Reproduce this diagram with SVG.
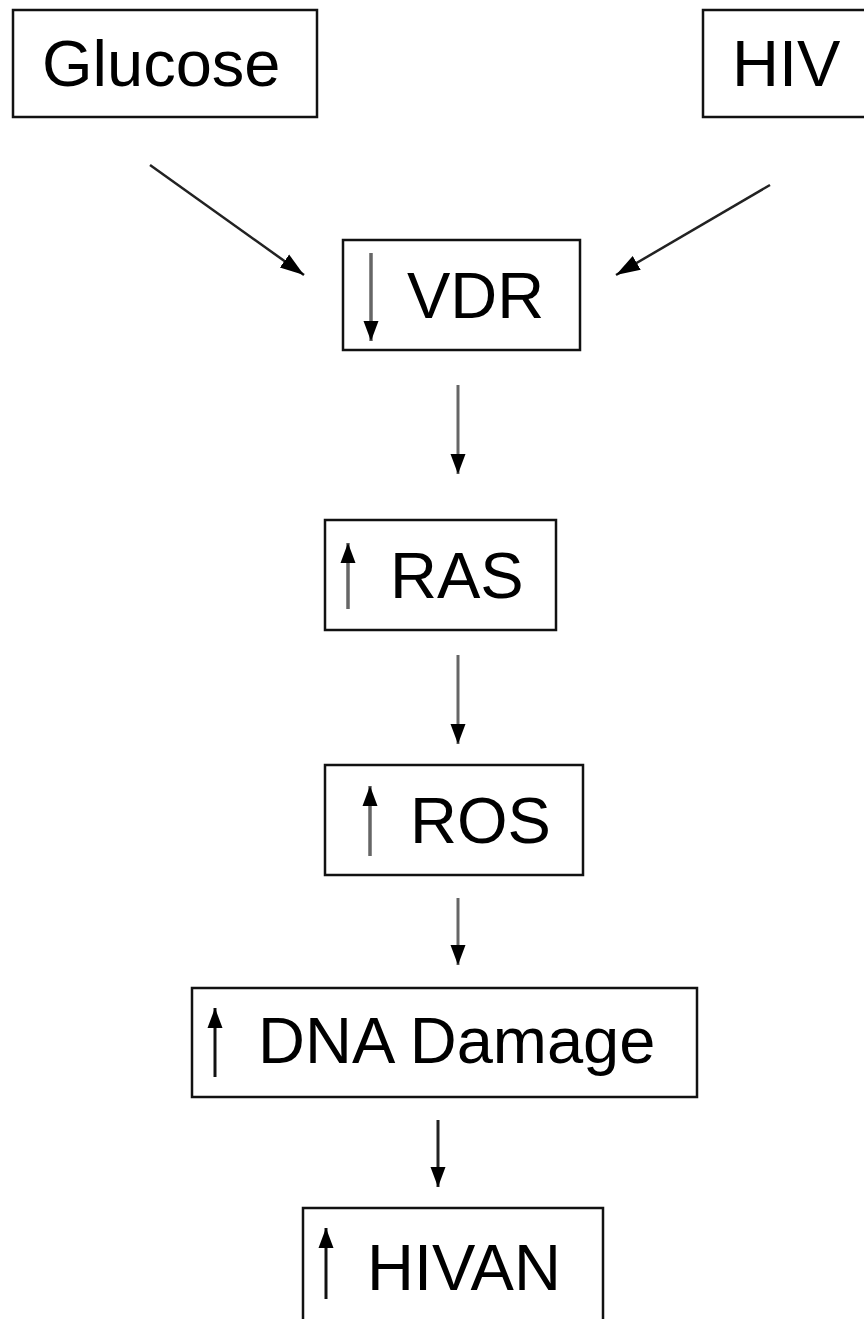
<svg xmlns="http://www.w3.org/2000/svg" width="864" height="1319" viewBox="0 0 864 1319">
<style>
.box{fill:#fff;stroke:#111;stroke-width:2.5}
.lbl{font-family:"Liberation Sans",Arial,sans-serif;font-size:65px;fill:#000}
.con{stroke:#666;stroke-width:3;fill:none}
.dia{stroke:#222;stroke-width:2.5;fill:none}
.ind{stroke:#666;stroke-width:3.5;fill:none}
</style>
<defs>
<marker id="ah" markerUnits="userSpaceOnUse" markerWidth="26" markerHeight="26" viewBox="0 0 26 26" refX="24" refY="13" orient="auto">
<path d="M0,5 L24,13 L0,21 Z" fill="#000"/>
</marker>
<marker id="ahs" markerUnits="userSpaceOnUse" markerWidth="22" markerHeight="22" viewBox="0 0 22 22" refX="20" refY="11" orient="auto">
<path d="M0,3.5 L20,11 L0,18.5 Z" fill="#000"/>
</marker>
</defs>
<rect width="864" height="1319" fill="#fff"/>
<g id="connectors">
<line class="dia" x1="150" y1="165" x2="304" y2="275" marker-end="url(#ah)"/>
<line class="dia" x1="770" y1="185" x2="616" y2="275" marker-end="url(#ah)"/>
<line class="con" x1="458" y1="385" x2="458" y2="474" marker-end="url(#ahs)"/>
<line class="con" x1="458" y1="655" x2="458" y2="744" marker-end="url(#ahs)"/>
<line class="con" x1="458" y1="898" x2="458" y2="965" marker-end="url(#ahs)"/>
<line class="con" x1="438" y1="1120" x2="438" y2="1187" marker-end="url(#ahs)" style="stroke:#222"/>
</g>
<g id="glucose">
<rect class="box" x="13" y="10" width="304" height="107"/>
<text class="lbl" x="42" y="86">Glucose</text>
</g>
<g id="hiv">
<rect class="box" x="703" y="10" width="170" height="107"/>
<text class="lbl" x="732" y="86">HIV</text>
</g>
<g id="vdr">
<rect class="box" x="343" y="240" width="237" height="110"/>
<line class="ind" x1="371" y1="253" x2="371" y2="341" marker-end="url(#ahs)"/>
<text class="lbl" x="407" y="318">VDR</text>
</g>
<g id="ras">
<rect class="box" x="325" y="520" width="231" height="110"/>
<line class="ind" x1="348" y1="609" x2="348" y2="543" marker-end="url(#ahs)"/>
<text class="lbl" x="390" y="598">RAS</text>
</g>
<g id="ros">
<rect class="box" x="325" y="765" width="258" height="110"/>
<line class="ind" x1="370" y1="856" x2="370" y2="786" marker-end="url(#ahs)"/>
<text class="lbl" x="410" y="843">ROS</text>
</g>
<g id="dna">
<rect class="box" x="192" y="988" width="505" height="109"/>
<line class="ind" x1="215" y1="1077" x2="215" y2="1008" marker-end="url(#ahs)" style="stroke:#111;stroke-width:3"/>
<text class="lbl" x="258" y="1063">DNA Damage</text>
</g>
<g id="hivan">
<rect class="box" x="303" y="1208" width="300" height="120"/>
<line class="ind" x1="326" y1="1299" x2="326" y2="1228" marker-end="url(#ahs)" style="stroke:#111;stroke-width:3"/>
<text class="lbl" x="367" y="1290">HIVAN</text>
</g>
</svg>
